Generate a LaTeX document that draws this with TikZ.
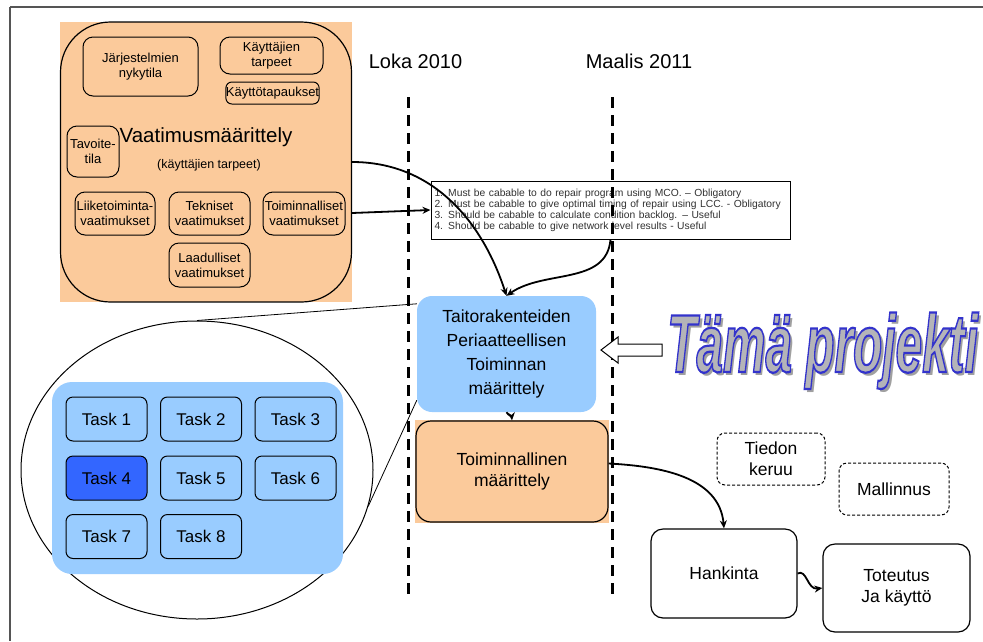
\documentclass[tikz,border=0pt]{standalone}
\usepackage{fontspec}
\setmainfont{Liberation Sans}
\usetikzlibrary{arrows.meta,shapes.geometric}

\definecolor{peach}{RGB}{251,202,155}
\definecolor{paleblue}{RGB}{153,204,255}
\definecolor{deepblue}{RGB}{51,102,255}
\definecolor{wordgray}{RGB}{180,180,184}
\definecolor{shadegray}{RGB}{160,160,160}
\definecolor{framegray}{RGB}{85,85,85}
\definecolor{reqtext}{RGB}{50,50,50}

\newcommand\fsz[2]{\fontsize{#1}{#2}\selectfont}
% filled glyphs with a blue stroked outline
\newcommand\outlinedword[1]{\special{pdf:literal direct 2 Tr 1.3 w 0.2 0.2 0.8 RG}#1\special{pdf:literal direct 0 Tr}}

\begin{document}
\begin{tikzpicture}[x=1pt,y=-1pt,
  smallbox/.style={draw, line width=1pt, rounded corners=10pt, align=center,
    inner sep=0pt, font=\fsz{13}{15}},
  taskbox/.style={draw, line width=1pt, rounded corners=7pt, fill=paleblue,
    minimum width=81pt, minimum height=44pt, inner sep=0pt, font=\fsz{17}{20}},
  phase/.style={draw, line width=1.2pt, rounded corners=14pt, align=center,
    inner sep=0pt, font=\fsz{17.5}{21}},
  option/.style={draw, dash pattern=on 3pt off 2pt, line width=1pt,
    rounded corners=8pt, align=center, inner sep=0pt, font=\fsz{17.5}{21}},
  flow/.style={line width=1.8pt, -{Stealth[length=8pt,width=7pt]}},
  milestone/.style={line width=3pt, dash pattern=on 11pt off 7pt},
  zoomline/.style={line width=0.8pt},
  datelabel/.style={font=\fsz{20}{24}}]

\useasboundingbox (0,0) rectangle (983,641);
\fill[white] (0,0) rectangle (983,641);

% frame
\draw[framegray, line width=2pt] (10,7) -- (983,7);
\draw[framegray, line width=1.3pt] (10,7) -- (10,641);

% requirements specification block
\fill[peach] (60,22) rectangle (352,302);
\node[draw, line width=1.2pt, rounded corners=50pt, minimum width=291pt,
  minimum height=280pt, inner sep=0pt] (vm) at (206,162) {};
\node[smallbox, minimum width=115pt, minimum height=59pt] (nyk) at (140.5,66.5) {Järjestelmien\\nykytila};
\node[smallbox, minimum width=103pt, minimum height=37pt] (ktarp) at (271.5,55.5) {Käyttäjien\\tarpeet};
\node[smallbox, rounded corners=6pt, minimum width=91pt, minimum height=22pt] (kta) at (272.5,93) {Käyttötapaukset};
\node[smallbox, minimum width=52pt, minimum height=51pt] (tav) at (93,151.5) {Tavoite-\\tila};
\node[font=\fsz{20.5}{24}] (vmtitle) at (206,137) {Vaatimusmäärittely};
\node[font=\fsz{12.5}{15}] (vmsub) at (209,165) {(käyttäjien tarpeet)};
\node[smallbox, minimum width=80pt, minimum height=43pt] (lii) at (115,213.5) {Liiketoiminta-\\vaatimukset};
\node[smallbox, minimum width=81pt, minimum height=43pt] (tek) at (209.5,213.5) {Tekniset\\vaatimukset};
\node[smallbox, minimum width=82pt, minimum height=43pt] (toi) at (304,213.5) {Toiminnalliset\\vaatimukset};
\node[smallbox, minimum width=81pt, minimum height=44pt] (laa) at (209.5,265) {Laadulliset\\vaatimukset};

% requirement list
\node[draw, line width=1pt, fill=white, minimum height=58pt, text width=352pt,
  align=left, inner xsep=3.5pt, font=\fsz{10.3}{11}, text=reqtext] (req) at (610.5,210)
  {1. Must be cabable to do repair program using MCO. – Obligatory\\
   2. Must be cabable to give optimal timing of repair using LCC. - Obligatory\\
   3. Should be cabable to calculate condition backlog. – Useful\\
   4. Should be cabable to give network level results - Useful};

% timeline
\node[datelabel] (loka) at (415.5,61) {Loka 2010};
\node[datelabel] (maalis) at (639,61) {Maalis 2011};
\coordinate (lokaTop) at (408,97);
\coordinate (lokaEnd) at (408,597);
\coordinate (maalTop) at (612,97);
\coordinate (maalEnd) at (612,597);
\draw[milestone] (lokaTop) -- (lokaEnd);
\draw[milestone] (maalTop) -- (maalEnd);

% this project
\node[fill=paleblue, rounded corners=15pt, minimum width=179pt, minimum height=116pt,
  align=center, inner sep=0pt, font=\fsz{17.5}{24.3}] (tp) at (506.5,354)
  {Taitorakenteiden\\Periaatteellisen\\Toiminnan\\määrittely};
\fill[peach] (415,420) rectangle (609,523);
\node[phase, minimum width=192pt, minimum height=101pt, rounded corners=15pt] (tm) at (512,471.5) {Toiminnallinen\\määrittely};

\node[anchor=base west, inner sep=0pt] (tamashadow) at (670,375)
  {\scalebox{1}[1.72]{\fsz{47.8}{48}\bfseries\itshape\color{shadegray}Tämä projekti}};
\node[anchor=base west, inner sep=0pt] (tama) at (667,372)
  {\scalebox{1}[1.72]{\fsz{47.8}{48}\bfseries\itshape\color{wordgray}\outlinedword{Tämä projekti}}};
\draw[line width=1pt, fill=white] (601,350) -- (618,337) -- (618,344) -- (662,344)
  -- (662,356) -- (618,356) -- (618,363) -- cycle;

% later phases
\node[option, minimum width=108pt, minimum height=52pt] (tiedon) at (771,459) {Tiedon\\keruu};
\node[option, minimum width=110pt, minimum height=52pt] (mall) at (894,489) {Mallinnus};
\node[phase, rounded corners=12pt, minimum width=146pt, minimum height=89pt] (hk) at (724,573.5) {Hankinta};
\node[phase, rounded corners=12pt, minimum width=147pt, minimum height=88pt] (tt) at (896.5,588) {Toteutus\\Ja käyttö};

% task breakdown
\node[ellipse, draw, line width=1pt, minimum width=352pt, minimum height=298pt, inner sep=0pt] (ell) at (197,470) {};
\node[fill=paleblue, rounded corners=20pt, minimum width=291pt, minimum height=192pt, inner sep=0pt] (panel) at (197.5,478) {};
\node[taskbox] (t1) at (106.5,419) {Task 1};
\node[taskbox] (t2) at (201,419) {Task 2};
\node[taskbox] (t3) at (295.5,419) {Task 3};
\node[taskbox, fill=deepblue] (t4) at (106.5,478) {Task 4};
\node[taskbox] (t5) at (201,478) {Task 5};
\node[taskbox] (t6) at (295.5,478) {Task 6};
\node[taskbox] (t7) at (106.5,536.5) {Task 7};
\node[taskbox] (t8) at (201,536.5) {Task 8};
\draw[zoomline] (ell.north) -- ([yshift=-8pt]tp.north west);
\draw[zoomline] (ell.-12) -- ([yshift=12pt]tp.south west);

% connectors
\draw[flow] (vm.east) to[out=0,in=108] (tp.north);
\draw[flow] ([yshift=-51pt]vm.east) -- (req.west);
\draw[flow] (req.south) to[out=-95,in=35] (tp.north);
\draw[flow] (tp.south) to[out=-60,in=95] (tm.north);
\draw[flow] ([yshift=8pt]tm.east) to[out=-3,in=95] (hk.north);
\draw[flow] (hk.east) .. controls +(9,-5) and +(-15,2) .. (tt.west);
\end{tikzpicture}
\end{document}
